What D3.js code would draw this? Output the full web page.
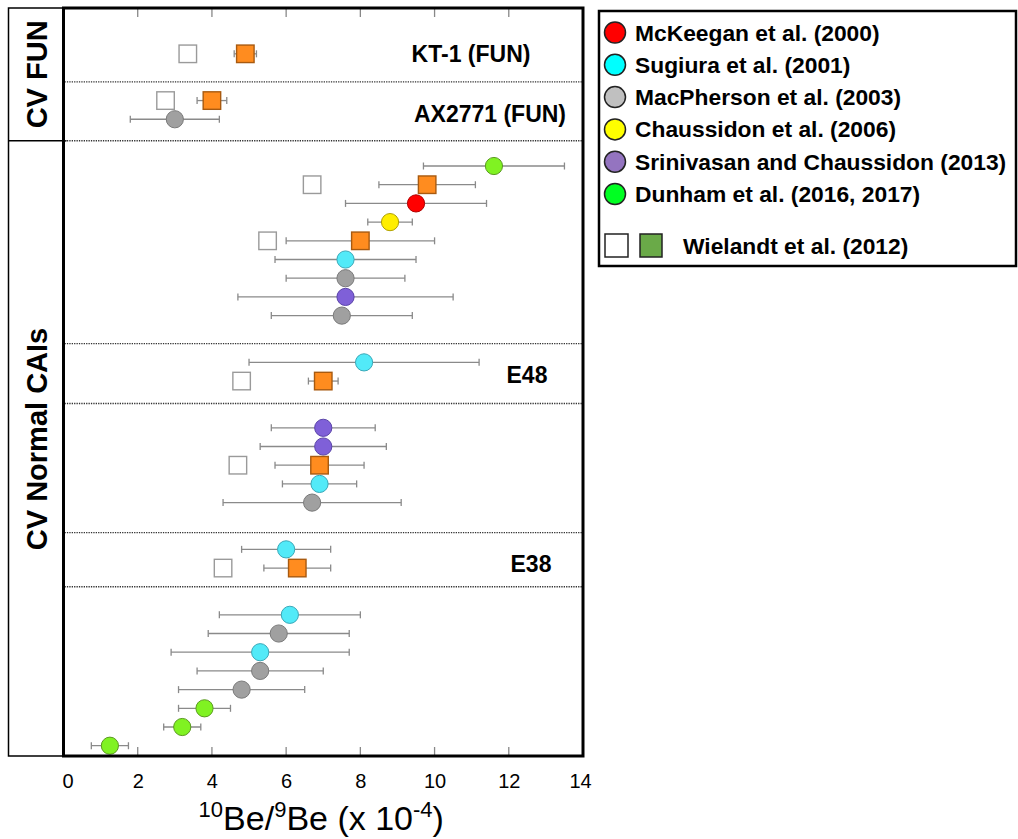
<!DOCTYPE html>
<html>
<head>
<meta charset="utf-8">
<script src="https://cdn.jsdelivr.net/npm/d3@7"></script>
<style>
  html, body { margin: 0; padding: 0; background: #fff; }
  svg { display: block; font-family: "Liberation Sans", Arial, Helvetica, sans-serif; }
</style>
</head>
<body>
<svg id="chart" width="1018" height="839"></svg>
<script>
// ---------------- DATA ----------------
const seriesKeys = ["McKeegan", "Sugiura", "MacPherson", "Chaussidon", "Srinivasan", "Dunham", "WielandtOpen", "WielandtFilled"];
const legendLabels = [
  "McKeegan et al. (2000)",
  "Sugiura et al. (2001)",
  "MacPherson et al. (2003)",
  "Chaussidon et al. (2006)",
  "Srinivasan and Chaussidon (2013)",
  "Dunham et al. (2016, 2017)"
];
const wielandtLabel = "Wielandt et al. (2012)";

// row rank (ordinal slot from top), series, value and 2σ limits  (x 10^-4)
const pointRow = [
  -6, -6,
  -3.5, -3.5, -2.5,
  0, 1, 1, 2, 3, 4, 4, 5, 6, 7, 8,
  10.5, 11.5, 11.5,
  14, 15, 16, 16, 17, 18,
  20.5, 21.5, 21.5,
  24, 25, 26, 27, 28, 29, 30, 31
];
const pointSeries = [
  "WielandtOpen", "WielandtFilled",
  "WielandtOpen", "WielandtFilled", "MacPherson",
  "Dunham", "WielandtOpen", "WielandtFilled", "McKeegan", "Chaussidon", "WielandtOpen", "WielandtFilled", "Sugiura", "MacPherson", "Srinivasan", "MacPherson",
  "Sugiura", "WielandtOpen", "WielandtFilled",
  "Srinivasan", "Srinivasan", "WielandtOpen", "WielandtFilled", "Sugiura", "MacPherson",
  "Sugiura", "WielandtOpen", "WielandtFilled",
  "Sugiura", "MacPherson", "Sugiura", "MacPherson", "MacPherson", "Dunham", "Dunham", "Dunham"
];
const pointValue = [
  3.35, 4.9,
  2.75, 4.0, 3.0,
  11.6, 6.7, 9.8, 9.5, 8.8, 5.5, 8.0, 7.6, 7.6, 7.6, 7.5,
  8.1, 4.8, 7.0,
  7.0, 7.0, 4.7, 6.9, 6.9, 6.7,
  6.0, 4.3, 6.3,
  6.1, 5.8, 5.3, 5.3, 4.8, 3.8, 3.2, 1.25
];
const pointLow = [
  null, 4.6,
  null, 3.6, 1.8,
  9.7, null, 8.5, 7.6, 8.2, null, 6.0, 5.7, 6.0, 4.7, 5.6,
  5.0, null, 6.6,
  5.6, 5.3, null, 5.7, 5.9, 4.3,
  4.8, null, 5.4,
  4.2, 3.9, 2.9, 3.6, 3.1, 3.1, 2.7, 0.75
];
const pointHigh = [
  null, 5.2,
  null, 4.4, 4.2,
  13.5, null, 11.1, 11.4, 9.4, null, 10.0, 9.5, 9.2, 10.5, 9.4,
  11.2, null, 7.4,
  8.4, 8.7, null, 8.1, 7.9, 9.1,
  7.2, null, 7.2,
  8.0, 7.7, 7.7, 7.0, 6.5, 4.5, 3.7, 1.75
];

const xTicks = [0, 2, 4, 6, 8, 10, 12, 14];

// group labels and separators (in row-rank units)
const groupLabels = ["KT-1 (FUN)", "AX2771 (FUN)", "E48", "E38"];
const groupLabelRow = [-6, -2.8, 11.2, 21.3];
const separatorRows = [-4.5, -1.35, 9.5, 12.7, 19.6, 22.5];
const sideLabels = ["CV FUN", "CV Normal CAIs"];

// ---------------- STYLE ----------------
const plotFill = {
  McKeegan: "#ff0000", Sugiura: "#52eaf8", MacPherson: "#a0a0a0", Chaussidon: "#ffee00",
  Srinivasan: "#7f60d8", Dunham: "#80f222", WielandtOpen: "#ffffff", WielandtFilled: "#ff8c1f"
};
const plotStroke = {
  McKeegan: "#b00000", Sugiura: "#3aa8b8", MacPherson: "#7a7a7a", Chaussidon: "#b0a000",
  Srinivasan: "#5a44a8", Dunham: "#5a9a20", WielandtOpen: "#9a9a9a", WielandtFilled: "#a85a10"
};
const legendFill = ["#ff0000", "#00ffff", "#c0c0c0", "#ffff00", "#9474c0", "#00ff22"];

// ---------------- LAYOUT ----------------
const svg = d3.select("#chart");
const frame = { left: 63.5, right: 583, top: 8, bottom: 756 };

const x = d3.scaleLinear().domain([0, 14]).range([frame.left, frame.right]);
const y = d3.scaleLinear().domain([-8.45, 31.55]).range([frame.top, frame.bottom]);

// side label box
const sideBox = svg.append("g");
sideBox.append("path")
  .attr("d", `M${frame.left},${frame.top} H8.5 V${frame.bottom} H${frame.left}`)
  .attr("fill", "none").attr("stroke", "#000").attr("stroke-width", 1.5);
sideBox.append("line")
  .attr("x1", 8.5).attr("x2", frame.left + 3)
  .attr("y1", y(-1.35)).attr("y2", y(-1.35))
  .attr("stroke", "#000").attr("stroke-width", 1.5);
const sideCenters = [(frame.top + y(-1.35)) / 2, 439];
sideLabels.forEach((t, i) => {
  sideBox.append("text")
    .attr("transform", `translate(37,${sideCenters[i]}) rotate(-90)`)
    .attr("text-anchor", "middle").attr("dominant-baseline", "central")
    .attr("font-size", 29).attr("font-weight", "bold").text(t);
});

// separators
svg.append("g").selectAll("line").data(separatorRows).join("line")
  .attr("x1", frame.left + 1).attr("x2", frame.right - 1)
  .attr("y1", d => y(d)).attr("y2", d => y(d))
  .attr("stroke", "#333").attr("stroke-width", 1.3).attr("stroke-dasharray", "1.3,1.1");

// inner ticks top and bottom
const innerTicks = xTicks.slice(1, -1);
svg.append("g").selectAll("line").data(innerTicks).join("line")
  .attr("x1", d => x(d)).attr("x2", d => x(d))
  .attr("y1", frame.top).attr("y2", frame.top + 9)
  .attr("stroke", "#888").attr("stroke-width", 1.3);
svg.append("g").selectAll("line").data(innerTicks).join("line")
  .attr("x1", d => x(d)).attr("x2", d => x(d))
  .attr("y1", frame.bottom).attr("y2", frame.bottom - 9)
  .attr("stroke", "#888").attr("stroke-width", 1.3);

// x axis labels
const xAxis = d3.axisBottom(x).tickValues(xTicks).tickSize(0).tickPadding(0).tickFormat(d3.format("d"));
const axG = svg.append("g").attr("transform", `translate(0,${frame.bottom})`).call(xAxis);
axG.select(".domain").remove();
axG.selectAll("text")
  .attr("font-family", "'Liberation Sans', Arial, sans-serif")
  .attr("font-size", 20).attr("fill", "#000")
  .attr("dy", null).attr("y", 32)
  .attr("dx", d => d === 0 ? 4 : (d === 14 ? -3 : 0));

// axis title
const title = svg.append("text")
  .attr("x", (frame.left + frame.right) / 2 - 2).attr("y", 830)
  .attr("text-anchor", "middle").attr("font-size", 34);
title.append("tspan").attr("font-size", 22).attr("dy", -13).text("10");
title.append("tspan").attr("dy", 13).text("Be/");
title.append("tspan").attr("font-size", 22).attr("dy", -13).text("9");
title.append("tspan").attr("dy", 13).text("Be (x 10");
title.append("tspan").attr("font-size", 22).attr("dy", -13).text("-4");
title.append("tspan").attr("dy", 13).text(")");

// points
const pts = pointValue.map((v, i) => ({
  row: pointRow[i], s: pointSeries[i], v, lo: pointLow[i], hi: pointHigh[i]
}));

const errG = svg.append("g").attr("stroke", "#8a8a8a").attr("stroke-width", 1.3);
pts.filter(d => d.lo != null).forEach(d => {
  const yy = y(d.row);
  errG.append("line").attr("x1", x(d.lo)).attr("x2", x(d.hi)).attr("y1", yy).attr("y2", yy);
  errG.append("line").attr("x1", x(d.lo)).attr("x2", x(d.lo)).attr("y1", yy - 3.5).attr("y2", yy + 3.5);
  errG.append("line").attr("x1", x(d.hi)).attr("x2", x(d.hi)).attr("y1", yy - 3.5).attr("y2", yy + 3.5);
});

const sq = 17.5, r = 8.6;
const markG = svg.append("g");
const order = d => d.s === "WielandtOpen" ? 0 : 1;
pts.slice().sort((a, b) => order(a) - order(b)).forEach(d => {
  if (d.s.startsWith("Wielandt")) {
    markG.append("rect")
      .attr("x", x(d.v) - sq / 2).attr("y", y(d.row) - sq / 2)
      .attr("width", sq).attr("height", sq)
      .attr("fill", plotFill[d.s]).attr("stroke", plotStroke[d.s]).attr("stroke-width", 1.4);
  } else {
    markG.append("circle")
      .attr("cx", x(d.v)).attr("cy", y(d.row)).attr("r", r)
      .attr("fill", plotFill[d.s]).attr("stroke", plotStroke[d.s]).attr("stroke-width", 1);
  }
});

// group labels
const labelX = [471, 490, 527, 531];
svg.append("g").selectAll("text").data(groupLabels).join("text")
  .attr("x", (d, i) => labelX[i]).attr("y", (d, i) => y(groupLabelRow[i]))
  .attr("text-anchor", "middle").attr("dominant-baseline", "central")
  .attr("font-size", 23).attr("font-weight", "bold").text(d => d);

// frame
svg.append("rect")
  .attr("x", frame.left).attr("y", frame.top)
  .attr("width", frame.right - frame.left).attr("height", frame.bottom - frame.top)
  .attr("fill", "none").attr("stroke", "#000").attr("stroke-width", 3);

// legend
const lg = svg.append("g");
lg.append("rect").attr("x", 599).attr("y", 11).attr("width", 417).attr("height", 255)
  .attr("fill", "none").attr("stroke", "#000").attr("stroke-width", 2.5);
const lgY = d3.scaleLinear().domain([0, 5]).range([32.5, 194]);
legendLabels.forEach((t, i) => {
  lg.append("circle").attr("cx", 615).attr("cy", lgY(i)).attr("r", 10.5)
    .attr("fill", legendFill[i]).attr("stroke", "#222").attr("stroke-width", 1.5);
  lg.append("text").attr("x", 635).attr("y", lgY(i)).attr("dominant-baseline", "central")
    .attr("font-size", 22.8).attr("font-weight", "bold").text(t);
});
lg.append("rect").attr("x", 605).attr("y", 234).attr("width", 23).attr("height", 23)
  .attr("fill", "#fff").attr("stroke", "#222").attr("stroke-width", 1.5);
lg.append("rect").attr("x", 640).attr("y", 234).attr("width", 22).attr("height", 23)
  .attr("fill", "#6aaa48").attr("stroke", "#222").attr("stroke-width", 1.5);
lg.append("text").attr("x", 683).attr("y", 245.5).attr("dominant-baseline", "central")
  .attr("font-size", 22.8).attr("font-weight", "bold").text(wielandtLabel);
</script>
</body>
</html>
